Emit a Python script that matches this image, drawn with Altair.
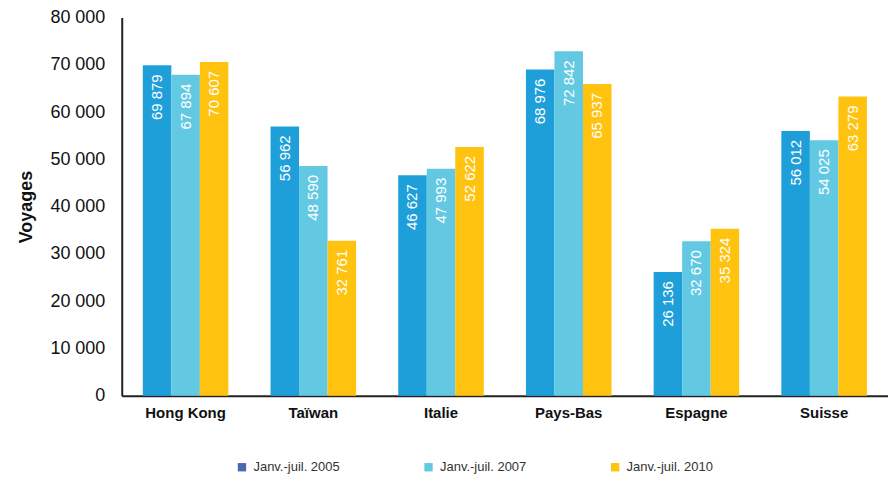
import altair as alt
import pandas as pd

countries = ["Hong Kong", "Taïwan", "Italie", "Pays-Bas", "Espagne", "Suisse"]
series = ["Janv.-juil. 2005", "Janv.-juil. 2007", "Janv.-juil. 2010"]
v2005 = [69879, 56962, 46627, 68976, 26136, 56012]
v2007 = [67894, 48590, 47993, 72842, 32670, 54025]
v2010 = [70607, 32761, 52622, 65937, 35324, 63279]
bar_colors = ["#1E9FD9", "#63C9E3", "#FFC20E"]
legend_colors = ["#4A67B0", "#63C9E3", "#FFC20E"]

rows = []
for i, c in enumerate(countries):
    for s, vals in zip(series, [v2005, v2007, v2010]):
        rows.append({"pays": c, "serie": s, "leg": s, "v": vals[i],
                     "lab": f"{vals[i]:,}".replace(",", " ")})
df = pd.DataFrame(rows)

FONT = "Liberation Sans"

x = alt.X("pays:N", sort=countries, title=None,
          scale=alt.Scale(paddingInner=0.33, paddingOuter=0.165),
          axis=alt.Axis(labelAngle=0, labelFontSize=15, labelFontWeight="bold",
                        labelColor="#111", ticks=False, labelPadding=10,
                        domainColor="#222", domainWidth=2))
xo = alt.XOffset("serie:N", sort=series, scale=alt.Scale(paddingInner=0, paddingOuter=0))
y = alt.Y("v:Q", title="Voyages", scale=alt.Scale(domain=[0, 80000], nice=False),
          axis=alt.Axis(values=list(range(0, 80001, 10000)), grid=False, ticks=False,
                        labelExpr="replace(format(datum.value, ',d'), ',', ' ')",
                        labelFontSize=18, labelColor="#111", labelPadding=17,
                        titleFontSize=18, titleFontWeight="bold", titleColor="#111",
                        titlePadding=14, domainColor="#222", domainWidth=2))

base = alt.Chart(df)
bars = base.mark_bar().encode(
    x=x, xOffset=xo, y=y,
    color=alt.Color("serie:N", sort=series, scale=alt.Scale(range=bar_colors), legend=None),
)
labels = base.mark_text(angle=270, align="right", baseline="middle", dx=-9, color="white",
                        fontSize=15, font=FONT).encode(
    x=x, xOffset=xo, y=alt.Y("v:Q"), text="lab:N")
leg = base.mark_point(filled=True, shape="square", opacity=0.001).encode(
    x=x, xOffset=xo, y=alt.Y("v:Q"),
    fill=alt.Fill("leg:N", sort=series, scale=alt.Scale(domain=series, range=legend_colors),
                  legend=alt.Legend(title=None, orient="none", legendX=114, legendY=444,
                                    direction="horizontal",
                                    symbolType="square", symbolSize=70, symbolOpacity=1,
                                    symbolStrokeWidth=0, labelFontSize=13, labelColor="#333",
                                    labelOffset=5, columnPadding=82, labelLimit=300)))

chart = alt.layer(bars, labels, leg).properties(
    width=768, height=379,
    padding={"left": 9, "right": 0, "top": 0, "bottom": 0}
).configure(font=FONT).configure_view(stroke=None)

chart.save("out.html", embed_options={"renderer": "svg", "actions": False})
